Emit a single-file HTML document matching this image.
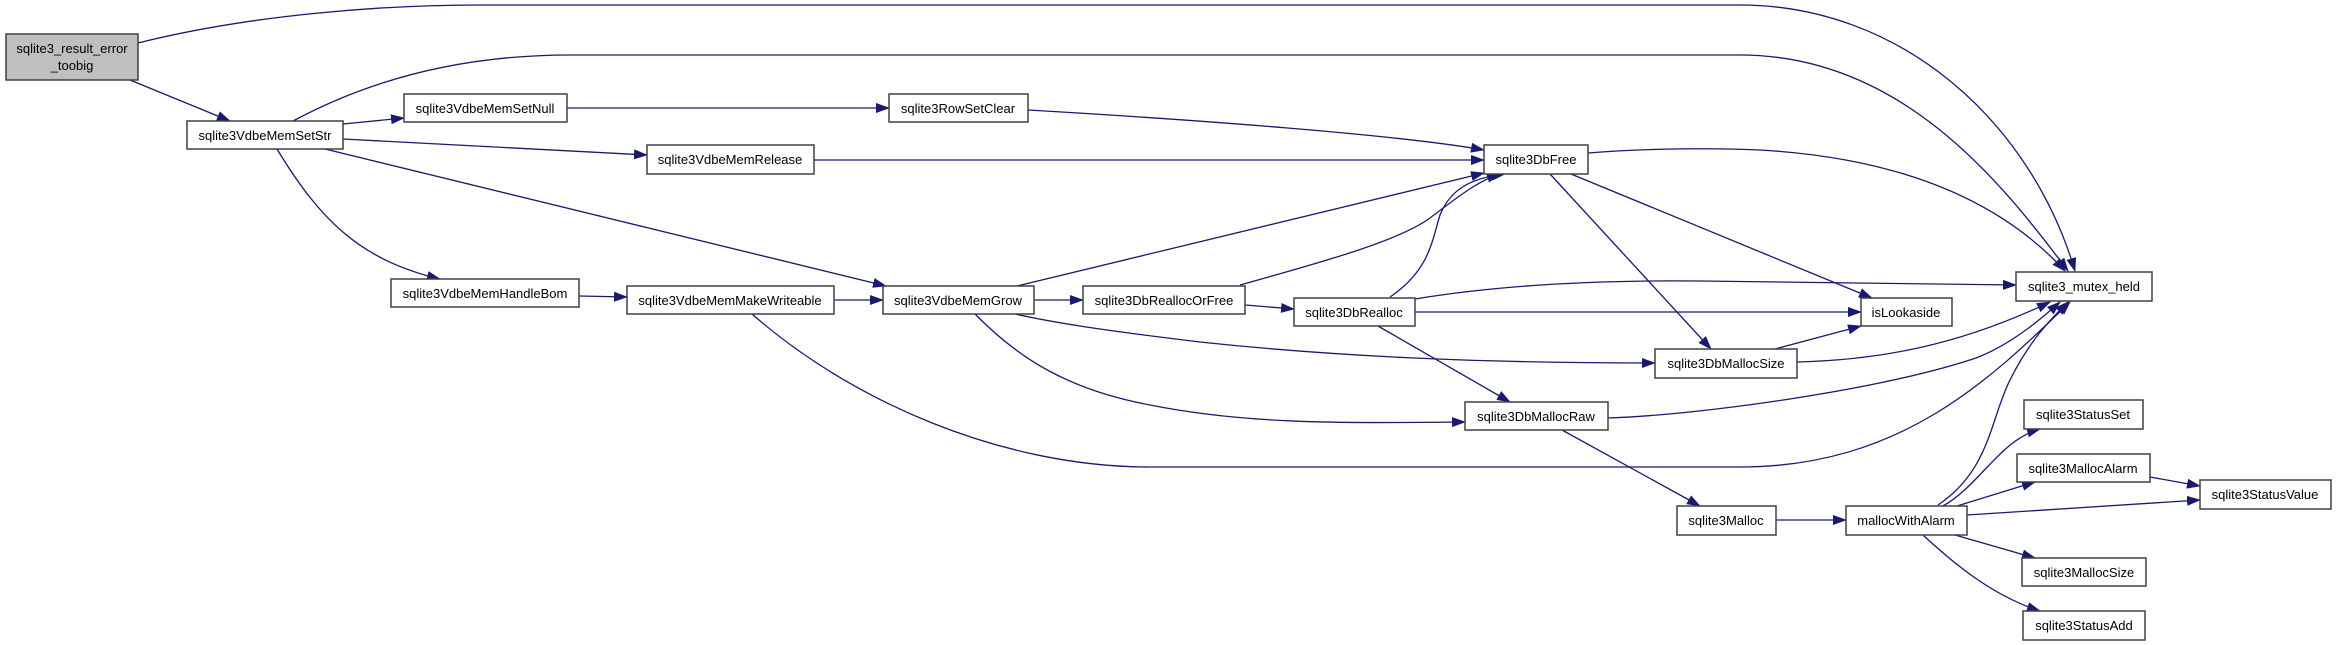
<!DOCTYPE html>
<html><head><meta charset="utf-8"><style>
html,body{margin:0;padding:0;background:#fff;}
svg{display:block;}
text{font-family:"Liberation Sans",Arial,sans-serif;font-size:13px;fill:#000;}
</style></head><body>
<svg width="2336" height="645" viewBox="0 0 2336 645" xmlns="http://www.w3.org/2000/svg">
<defs>
<marker id="a" markerWidth="14" markerHeight="10" refX="13" refY="5" orient="auto" markerUnits="userSpaceOnUse">
<path d="M0,0 L14,5 L0,10 z" fill="#191970"/>
</marker>
</defs>
<g fill="none" stroke="#191970" stroke-width="1.3" marker-end="url(#a)">
<path d="M138,43 C250,15 380,5 480,5 L1740,5 C1900,5 2030,120 2075,271"/>
<path d="M130,80 L230,121"/>
<path d="M293,121 C360,85 450,55 570,55 L1740,55 C1900,55 2000,180 2068,271"/>
<path d="M343,124 L404,118"/>
<path d="M343,139 L647,155"/>
<path d="M325,149 L886,286"/>
<path d="M277,149 C320,220 360,260 440,279"/>
<path d="M567,108 L889,108"/>
<path d="M1028,110 C1200,120 1400,135 1484,150"/>
<path d="M814,160 L1484,160"/>
<path d="M1017,286 L1484,173"/>
<path d="M1240,285 C1330,260 1400,240 1430,218 C1460,195 1480,180 1500,174"/>
<path d="M1390,297 C1430,270 1432,240 1440,215 C1450,190 1470,178 1505,174"/>
<path d="M1034,300 L1083,300"/>
<path d="M1245,305 L1294,309"/>
<path d="M1015,314 C1050,322 1100,330 1200,342 C1350,358 1500,363 1655,363"/>
<path d="M975,314 C1020,360 1070,390 1150,405 C1250,425 1350,423 1465,422"/>
<path d="M834,300 L883,300"/>
<path d="M579,296 L627,297"/>
<path d="M752,314 C850,400 1000,467 1150,467 L1740,467 C1900,467 1990,380 2070,302"/>
<path d="M1415,299 C1500,285 1600,280 1700,281 L2016,285"/>
<path d="M1415,312 L1861,312"/>
<path d="M1378,326 L1510,402"/>
<path d="M1588,153 C1650,148 1720,148 1760,150 C1900,158 2000,200 2065,271"/>
<path d="M1571,174 L1872,298"/>
<path d="M1550,174 L1711,349"/>
<path d="M1775,349 L1861,326"/>
<path d="M1797,362 C1880,360 1960,345 2050,302"/>
<path d="M1608,418 C1700,415 1880,390 1976,358 C2010,345 2040,320 2060,302"/>
<path d="M1562,430 L1700,506"/>
<path d="M1776,520 L1846,520"/>
<path d="M1938,505 C1990,470 1990,420 2010,380 C2030,340 2050,320 2068,302"/>
<path d="M1943,506 C1980,485 2000,440 2040,429"/>
<path d="M1957,506 L2035,482"/>
<path d="M1967,515 L2200,500"/>
<path d="M2150,477 L2200,486"/>
<path d="M1955,535 L2035,558"/>
<path d="M1923,535 C1950,560 1990,595 2040,611"/>
</g>
<g stroke="#404040" stroke-width="1.5">
<rect x="6" y="34" width="132" height="46" fill="#bfbfbf"/>
<g fill="#fff">
<rect x="187" y="121" width="156" height="28"/>
<rect x="404" y="94" width="163" height="28"/>
<rect x="647" y="145" width="167" height="29"/>
<rect x="391" y="279" width="188" height="28"/>
<rect x="627" y="286" width="207" height="28"/>
<rect x="889" y="94" width="139" height="28"/>
<rect x="1484" y="145" width="104" height="29"/>
<rect x="883" y="286" width="151" height="28"/>
<rect x="1083" y="286" width="162" height="28"/>
<rect x="1294" y="298" width="121" height="28"/>
<rect x="1465" y="402" width="143" height="28"/>
<rect x="1677" y="506" width="99" height="29"/>
<rect x="2016" y="272" width="136" height="29"/>
<rect x="1861" y="298" width="91" height="28"/>
<rect x="1655" y="349" width="142" height="29"/>
<rect x="1846" y="506" width="121" height="29"/>
<rect x="2024" y="400" width="119" height="29"/>
<rect x="2017" y="454" width="133" height="28"/>
<rect x="2200" y="480" width="131" height="29"/>
<rect x="2022" y="558" width="124" height="28"/>
<rect x="2023" y="611" width="122" height="29"/>
</g></g>
<g text-anchor="middle">
<text x="72" y="53">sqlite3_result_error</text>
<text x="72" y="70">_toobig</text>
<text x="265" y="140">sqlite3VdbeMemSetStr</text>
<text x="485" y="113">sqlite3VdbeMemSetNull</text>
<text x="730" y="164">sqlite3VdbeMemRelease</text>
<text x="485" y="298">sqlite3VdbeMemHandleBom</text>
<text x="730" y="305">sqlite3VdbeMemMakeWriteable</text>
<text x="958" y="113">sqlite3RowSetClear</text>
<text x="1536" y="164">sqlite3DbFree</text>
<text x="958" y="305">sqlite3VdbeMemGrow</text>
<text x="1164" y="305">sqlite3DbReallocOrFree</text>
<text x="1354" y="317">sqlite3DbRealloc</text>
<text x="1536" y="421">sqlite3DbMallocRaw</text>
<text x="1726" y="525">sqlite3Malloc</text>
<text x="2084" y="291">sqlite3_mutex_held</text>
<text x="1906" y="317">isLookaside</text>
<text x="1726" y="368">sqlite3DbMallocSize</text>
<text x="1906" y="525">mallocWithAlarm</text>
<text x="2083" y="419">sqlite3StatusSet</text>
<text x="2083" y="473">sqlite3MallocAlarm</text>
<text x="2265" y="499">sqlite3StatusValue</text>
<text x="2084" y="577">sqlite3MallocSize</text>
<text x="2084" y="630">sqlite3StatusAdd</text>
</g>
</svg>
</body></html>
